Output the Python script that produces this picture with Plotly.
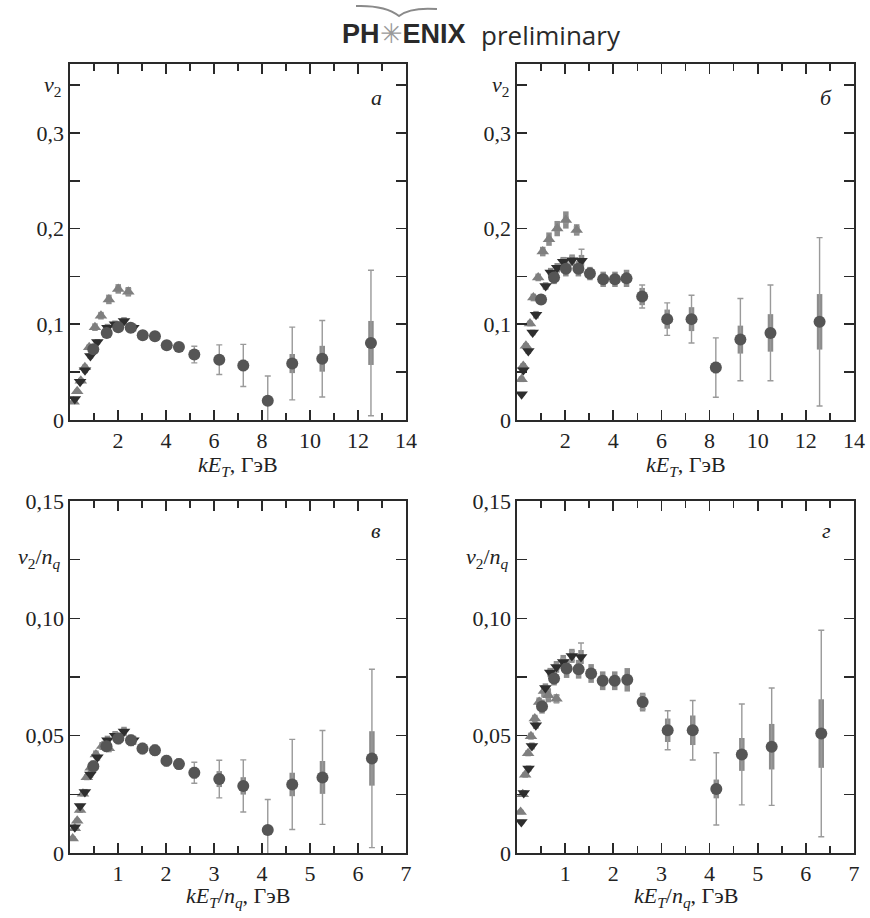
import plotly.graph_objects as go

# ---------------- data: panel а (v2 vs kET) ----------------
a_up_x = [0.15, 0.30, 0.45, 0.62, 0.80, 1.04, 1.29, 1.62, 2.01, 2.43]
a_up_y = [0.019, 0.030, 0.041, 0.055, 0.076, 0.097, 0.109, 0.126, 0.137, 0.134]
a_up_stat = [0.001, 0.001, 0.001, 0.001, 0.001, 0.001, 0.002, 0.002, 0.002, 0.003]
a_up_syst = [0.002, 0.002, 0.003, 0.003, 0.003, 0.004, 0.004, 0.005, 0.005, 0.005]

a_dn_x = [0.20, 0.42, 0.625, 0.85, 1.14, 1.56, 1.875, 2.25, 2.64]
a_dn_y = [0.022, 0.040, 0.052, 0.067, 0.0816, 0.0965, 0.100, 0.1035, 0.0965]
a_dn_stat = [0.001, 0.001, 0.001, 0.001, 0.001, 0.001, 0.002, 0.002, 0.003]
a_dn_syst = [0.002, 0.002, 0.003, 0.003, 0.003, 0.004, 0.004, 0.004, 0.004]

a_pi_x = [0.97, 1.53, 2.01, 2.53, 3.03, 3.54, 4.03, 4.54, 5.18, 6.22, 7.22, 8.24, 9.26, 10.51, 12.54]
a_pi_y = [0.074, 0.091, 0.097, 0.0965, 0.0885, 0.0875, 0.078, 0.0764, 0.0684, 0.063, 0.057, 0.020, 0.059, 0.064, 0.0805]
a_pi_stat = [0.002, 0.002, 0.002, 0.002, 0.002, 0.003, 0.003, 0.004, 0.0087, 0.0155, 0.022, 0.026, 0.038, 0.040, 0.076]
a_pi_syst = [0.004, 0.005, 0.005, 0.005, 0.005, 0.005, 0.005, 0.005, 0.005, 0.005, 0.006, 0.004, 0.010, 0.0135, 0.023]

# ---------------- data: panel б (v2 vs kET) ----------------
b_up_x = [0.19, 0.26, 0.37, 0.54, 0.68, 0.88, 1.07, 1.33, 1.67, 2.03, 2.48]
b_up_y = [0.0426, 0.0565, 0.0775, 0.1008, 0.128, 0.149, 0.176, 0.189, 0.200, 0.209, 0.1986]
b_up_stat = [0.001, 0.001, 0.001, 0.001, 0.001, 0.001, 0.002, 0.002, 0.002, 0.003, 0.003]
b_up_syst = [0.003, 0.003, 0.003, 0.003, 0.004, 0.004, 0.005, 0.007, 0.008, 0.009, 0.006]

b_dn_x = [0.19, 0.26, 0.47, 0.65, 0.79, 1.19, 1.40, 1.67, 1.92, 2.29, 2.68]
b_dn_y = [0.027, 0.052, 0.072, 0.0914, 0.110, 0.140, 0.154, 0.159, 0.1654, 0.167, 0.1665]
b_dn_stat = [0.001, 0.001, 0.001, 0.001, 0.001, 0.002, 0.002, 0.002, 0.003, 0.004, 0.012]
b_dn_syst = [0.002, 0.003, 0.003, 0.003, 0.004, 0.004, 0.005, 0.005, 0.005, 0.006, 0.006]

b_pi_x = [1.00, 1.54, 2.03, 2.55, 3.03, 3.58, 4.07, 4.55, 5.20, 6.24, 7.25, 8.26, 9.28, 10.53, 12.57]
b_pi_y = [0.126, 0.149, 0.158, 0.158, 0.153, 0.147, 0.147, 0.148, 0.129, 0.1054, 0.1054, 0.0548, 0.084, 0.091, 0.1026]
b_pi_stat = [0.003, 0.003, 0.003, 0.003, 0.003, 0.003, 0.004, 0.004, 0.012, 0.017, 0.025, 0.031, 0.043, 0.050, 0.088]
b_pi_syst = [0.005, 0.007, 0.008, 0.008, 0.007, 0.008, 0.008, 0.009, 0.009, 0.010, 0.0125, 0.006, 0.0146, 0.0196, 0.029]

# ---------------- data: panel в (v2/nq vs kET/nq) ----------------
c_up_x = [0.056, 0.10, 0.15, 0.21, 0.27, 0.35, 0.43, 0.54, 0.67, 0.81]
c_up_y = [0.0062, 0.0105, 0.0137, 0.0183, 0.0253, 0.0323, 0.0363, 0.042, 0.0456, 0.0446]
c_up_stat = [0.0005, 0.0005, 0.0005, 0.0005, 0.0005, 0.0005, 0.0007, 0.0007, 0.0008, 0.001]
c_up_syst = [0.001, 0.001, 0.001, 0.0012, 0.0012, 0.0013, 0.0015, 0.0017, 0.0017, 0.0017]

c_dn_x = [0.10, 0.21, 0.31, 0.425, 0.57, 0.78, 0.94, 1.125, 1.32]
c_dn_y = [0.011, 0.020, 0.026, 0.0335, 0.0408, 0.048, 0.050, 0.0518, 0.048]
c_dn_stat = [0.0005, 0.0005, 0.0005, 0.0005, 0.0005, 0.0007, 0.001, 0.001, 0.0015]
c_dn_syst = [0.001, 0.001, 0.0013, 0.0015, 0.0015, 0.002, 0.002, 0.002, 0.002]

c_pi_x = [0.486, 0.76, 1.007, 1.27, 1.51, 1.77, 2.01, 2.27, 2.59, 3.11, 3.61, 4.12, 4.63, 5.26, 6.29]
c_pi_y = [0.037, 0.0455, 0.0488, 0.048, 0.0445, 0.0438, 0.0393, 0.0379, 0.0342, 0.0315, 0.0286, 0.0098, 0.0292, 0.0322, 0.0403]
c_pi_stat = [0.001, 0.001, 0.001, 0.001, 0.0012, 0.0012, 0.0015, 0.0015, 0.0045, 0.008, 0.0111, 0.013, 0.0192, 0.020, 0.038]
c_pi_syst = [0.0025, 0.0025, 0.0025, 0.0025, 0.0025, 0.0025, 0.0025, 0.0025, 0.0025, 0.0034, 0.0037, 0.002, 0.005, 0.007, 0.0116]

# ---------------- data: panel г (v2/nq vs kET/nq) ----------------
d_up_x = [0.075, 0.12, 0.17, 0.23, 0.29, 0.37, 0.46, 0.56, 0.65, 0.82]
d_up_y = [0.0175, 0.025, 0.0333, 0.0425, 0.0498, 0.0573, 0.0643, 0.0690, 0.0672, 0.0657]
d_up_stat = [0.0005, 0.0005, 0.0005, 0.0005, 0.0007, 0.0007, 0.001, 0.001, 0.001, 0.0015]
d_up_syst = [0.001, 0.001, 0.0012, 0.0013, 0.0015, 0.0016, 0.002, 0.0025, 0.003, 0.002]

d_dn_x = [0.09, 0.14, 0.24, 0.31, 0.39, 0.59, 0.69, 0.82, 0.96, 1.14, 1.33]
d_dn_y = [0.0132, 0.0256, 0.036, 0.0456, 0.0544, 0.0703, 0.0769, 0.0793, 0.0814, 0.084, 0.0835]
d_dn_stat = [0.0005, 0.0005, 0.0005, 0.0007, 0.0007, 0.001, 0.001, 0.001, 0.0015, 0.002, 0.006]
d_dn_syst = [0.001, 0.0012, 0.0013, 0.0015, 0.0015, 0.002, 0.002, 0.0025, 0.003, 0.003, 0.003]

d_pi_x = [0.52, 0.77, 1.03, 1.28, 1.54, 1.78, 2.03, 2.29, 2.61, 3.13, 3.65, 4.14, 4.67, 5.29, 6.32]
d_pi_y = [0.0624, 0.0744, 0.0786, 0.0783, 0.0765, 0.0734, 0.0734, 0.0738, 0.0643, 0.0523, 0.0523, 0.0273, 0.042, 0.0453, 0.0509]
d_pi_stat = [0.0015, 0.0015, 0.002, 0.002, 0.002, 0.002, 0.002, 0.002, 0.003, 0.0083, 0.0127, 0.0154, 0.0215, 0.025, 0.044]
d_pi_syst = [0.003, 0.003, 0.004, 0.004, 0.004, 0.004, 0.004, 0.005, 0.004, 0.005, 0.0063, 0.004, 0.007, 0.0097, 0.0146]

top_x_ticks = [2, 4, 6, 8, 10, 12, 14]
top_y_ticks = [0, 0.1, 0.2, 0.3]
top_y_text = ["0", "0,1", "0,2", "0,3"]
bot_x_ticks = [1, 2, 3, 4, 5, 6, 7]
bot_y_ticks = [0, 0.05, 0.10, 0.15]
bot_y_text = ["0", "0,05", "0,10", "0,15"]
panel_letters = ["а", "б", "в", "г"]

# ---------------- styles ----------------
FONT = "Liberation Serif, DejaVu Serif, Times New Roman, serif"
AXC = "#2a2a2a"
C_UP = "#7f7f7f"
C_DN = "#2e2e2e"
C_PI = "#555555"
C_SYST = "#8c8c8c"
C_STAT = "#9a9a9a"

W, H = 870, 918
fig = go.Figure()

panels = [
    ("x", "y", (a_up_x, a_up_y, a_up_stat, a_up_syst), (a_dn_x, a_dn_y, a_dn_stat, a_dn_syst), (a_pi_x, a_pi_y, a_pi_stat, a_pi_syst)),
    ("x2", "y2", (b_up_x, b_up_y, b_up_stat, b_up_syst), (b_dn_x, b_dn_y, b_dn_stat, b_dn_syst), (b_pi_x, b_pi_y, b_pi_stat, b_pi_syst)),
    ("x3", "y3", (c_up_x, c_up_y, c_up_stat, c_up_syst), (c_dn_x, c_dn_y, c_dn_stat, c_dn_syst), (c_pi_x, c_pi_y, c_pi_stat, c_pi_syst)),
    ("x4", "y4", (d_up_x, d_up_y, d_up_stat, d_up_syst), (d_dn_x, d_dn_y, d_dn_stat, d_dn_syst), (d_pi_x, d_pi_y, d_pi_stat, d_pi_syst)),
]

for xa, ya, up, dn, pi in panels:
    for (x, y, st, sy) in (up, dn, pi):
        fig.add_trace(go.Scatter(
            x=x, y=y, xaxis=xa, yaxis=ya, mode="markers",
            marker=dict(size=2, color="rgba(0,0,0,0)"),
            error_y=dict(type="data", array=sy, visible=True, thickness=5.5, width=0, color=C_SYST),
            showlegend=False, hoverinfo="skip"))
    for (x, y, st, sy), sym, col, sz in ((up, "triangle-up", C_UP, 11),
                                         (dn, "triangle-down", C_DN, 11),
                                         (pi, "circle", C_PI, 12)):
        fig.add_trace(go.Scatter(
            x=x, y=y, xaxis=xa, yaxis=ya, mode="markers",
            marker=dict(symbol=sym, size=sz, color=col, line=dict(width=0)),
            error_y=dict(type="data", array=st, visible=True, thickness=1.4, width=3, color=C_STAT),
            showlegend=False))

def px_x(p):
    return p / W

def px_y(p):
    return 1 - p / H

common = dict(showline=True, linecolor=AXC, linewidth=1.6, mirror="ticks", ticks="inside",
              ticklen=10, tickwidth=1.6, tickcolor=AXC, showgrid=False, zeroline=False,
              automargin=False,
              tickfont=dict(family=FONT, size=22, color="#222"), fixedrange=True)

dom_xl = [px_x(70), px_x(406)]
dom_xr = [px_x(517), px_x(854)]
dom_yt = [px_y(420), px_y(64)]
dom_yb = [px_y(853), px_y(501)]

def xax(dom, rng, ticks, minor, anchor):
    return dict(common, domain=dom, range=rng, tickvals=ticks, ticktext=[str(t) for t in ticks],
                anchor=anchor,
                minor=dict(ticks="inside", dtick=minor, ticklen=7, tickwidth=1.6, tickcolor=AXC, showgrid=False))

def yax(dom, rng, ticks, text, minor, anchor):
    return dict(common, domain=dom, range=rng, tickvals=ticks, ticktext=text, anchor=anchor,
                minor=dict(ticks="inside", dtick=minor, ticklen=10, tickwidth=1.6, tickcolor=AXC, showgrid=False))

fig.update_layout(
    width=W, height=H, margin=dict(l=0, r=0, t=0, b=0, pad=0, autoexpand=False), autosize=False,
    paper_bgcolor="white", plot_bgcolor="white", showlegend=False,
    font=dict(family=FONT, size=22, color="#222"),
    xaxis=xax(dom_xl, [0, 14], top_x_ticks, 1, "y"),
    yaxis=yax(dom_yt, [0, 0.372], top_y_ticks, top_y_text, 0.05, "x"),
    xaxis2=xax(dom_xr, [0, 14], top_x_ticks, 1, "y2"),
    yaxis2=yax(dom_yt, [0, 0.372], top_y_ticks, top_y_text, 0.05, "x2"),
    xaxis3=xax(dom_xl, [0, 7], bot_x_ticks, 0.5, "y3"),
    yaxis3=yax(dom_yb, [0, 0.15], bot_y_ticks, bot_y_text, 0.025, "x3"),
    xaxis4=xax(dom_xr, [0, 7], bot_x_ticks, 0.5, "y4"),
    yaxis4=yax(dom_yb, [0, 0.15], bot_y_ticks, bot_y_text, 0.025, "x4"),
)

ann = []
tf = dict(family=FONT, size=22, color="#222")
for cx, cy, txt in ((238, 466, "<i>kE</i><sub><i>T</i></sub>, ГэВ"),
                    (686, 466, "<i>kE</i><sub><i>T</i></sub>, ГэВ"),
                    (238, 897, "<i>kE</i><sub><i>T</i></sub>/<i>n</i><sub><i>q</i></sub>, ГэВ"),
                    (686, 897, "<i>kE</i><sub><i>T</i></sub>/<i>n</i><sub><i>q</i></sub>, ГэВ")):
    ann.append(dict(x=px_x(cx), y=px_y(cy), xref="paper", yref="paper", text=txt, showarrow=False,
                    xanchor="center", yanchor="middle", font=tf))
for rx, cy, txt in ((63, 86, "<i>v</i><sub>2</sub>"), (511, 86, "<i>v</i><sub>2</sub>"),
                    (63, 558, "<i>v</i><sub>2</sub>/<i>n</i><sub><i>q</i></sub>"),
                    (511, 558, "<i>v</i><sub>2</sub>/<i>n</i><sub><i>q</i></sub>")):
    ann.append(dict(x=px_x(rx), y=px_y(cy), xref="paper", yref="paper", text=txt, showarrow=False,
                    xanchor="right", yanchor="middle", font=tf))
for (cx, cy), letter in zip(((376, 97), (826, 97), (376, 530), (826, 530)), panel_letters):
    ann.append(dict(x=px_x(cx), y=px_y(cy), xref="paper", yref="paper", text="<i>" + letter + "</i>",
                    showarrow=False, xanchor="center", yanchor="middle", font=tf))
ann.append(dict(x=px_x(340), y=px_y(34), xref="paper", yref="paper", xanchor="left", yanchor="middle",
                showarrow=False,
                text="<b>PH</b><span style='color:#9a9a9a'>✳</span><b>ENIX</b>",
                font=dict(family="Liberation Sans, Arial, sans-serif", size=27, color="#2a2a2a")))
ann.append(dict(x=px_x(479), y=px_y(35), xref="paper", yref="paper", xanchor="left", yanchor="middle",
                showarrow=False, text="preliminary",
                font=dict(family="Open Sans, sans-serif", size=26, color="#2a2a2a")))
fig.update_layout(annotations=ann)

fig.add_shape(type="path", xref="paper", yref="paper",
              path=f"M {px_x(356)} {px_y(6)} Q {px_x(385)} {px_y(5)} {px_x(399)} {px_y(16)} Q {px_x(410)} {px_y(7)} {px_x(437)} {px_y(9)}",
              line=dict(color="#8a8a8a", width=2))

fig.write_html("out.html", config={"displayModeBar": False, "staticPlot": True},
               post_script="document.body.style.margin='0';document.body.style.overflow='hidden';"
                           "var d=document.getElementById('{plot_id}');d.style.position='fixed';"
                           "d.style.top='0px';d.style.left='0px';")
